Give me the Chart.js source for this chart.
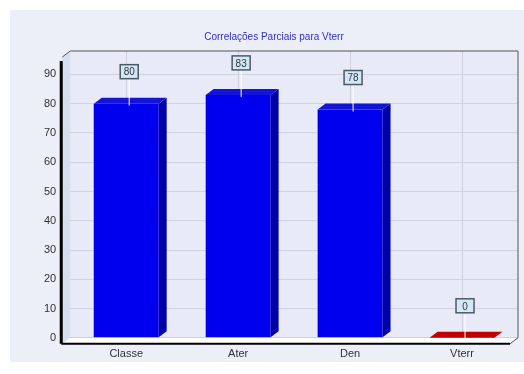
<!DOCTYPE html>
<html>
<head>
<meta charset="utf-8">
<script src="https://cdn.jsdelivr.net/npm/chart.js@4/dist/chart.umd.min.js"></script>
<style>
  html, body { margin: 0; padding: 0; background: #ffffff; }
  #wrap { width: 524px; height: 374px; }
</style>
</head>
<body>
<div id="wrap"><canvas id="chart" width="524" height="374"></canvas></div>
<script>
const categories = ['Classe', 'Ater', 'Den', 'Vterr'];
const values = [80, 83, 78, 0];
const barColors = ['#0000ee', '#0000ee', '#0000ee', '#dd0000'];
const sideColors = ['#0000a8', '#0000a8', '#0000a8', '#990000'];
const topColors = ['#1414d8', '#1414d8', '#1414d8', '#c00000'];
const titleText = 'Correlações Parciais para Vterr';

const DX = 8, DY = -6;
const FONT = '"Liberation Sans", Arial, sans-serif';

// panel, plot background and left wall
const backdrop = {
	id: 'backdrop',
	beforeDraw(chart) {
		const ctx = chart.ctx, a = chart.chartArea;
		ctx.save();
		ctx.fillStyle = '#ffffff';
		ctx.fillRect(0, 0, chart.width, chart.height);
		ctx.fillStyle = '#eceef8';
		ctx.fillRect(10, 10, chart.width - 10, 352);
		ctx.fillStyle = '#e8eaf8';
		ctx.fillRect(a.left, a.top, a.right - a.left, a.bottom - a.top);
		// left wall
		ctx.fillStyle = '#d4dff0';
		ctx.beginPath();
		ctx.moveTo(a.left - DX, a.top - DY);
		ctx.lineTo(a.left, a.top);
		ctx.lineTo(a.left, a.bottom);
		ctx.lineTo(a.left - DX, a.bottom - DY);
		ctx.closePath();
		ctx.fill();
		// floor
		ctx.fillStyle = '#ffffff';
		ctx.beginPath();
		ctx.moveTo(a.left - DX, a.bottom - DY);
		ctx.lineTo(a.left, a.bottom);
		ctx.lineTo(a.right, a.bottom);
		ctx.lineTo(a.right - DX, a.bottom - DY);
		ctx.closePath();
		ctx.fill();
		ctx.restore();
	},
	afterDatasetsDraw(chart) {
		const ctx = chart.ctx, a = chart.chartArea;
		ctx.save();
		// frame
		ctx.strokeStyle = '#555555';
		ctx.lineWidth = 1;
		ctx.beginPath();
		ctx.moveTo(a.left - DX, a.top - DY);
		ctx.lineTo(a.left, a.top);
		ctx.lineTo(a.right, a.top);
		ctx.lineTo(a.right, a.bottom);
		ctx.lineTo(a.right - DX, a.bottom - DY);
		ctx.stroke();
		// axes
		ctx.strokeStyle = '#000000';
		ctx.lineWidth = 3;
		ctx.beginPath();
		ctx.moveTo(a.left - DX - 1, a.top - DY + 4);
		ctx.lineTo(a.left - DX - 1, a.bottom - DY);
		ctx.stroke();
		ctx.lineWidth = 2;
		ctx.beginPath();
		ctx.moveTo(a.left - DX - 1, a.bottom - DY);
		ctx.lineTo(a.right - DX, a.bottom - DY);
		ctx.stroke();
		ctx.restore();
	}
};

// 3D faces for the bars
const bars3d = {
	id: 'bars3d',
	afterDatasetsDraw(chart) {
		const ctx = chart.ctx;
		const meta = chart.getDatasetMeta(0);
		ctx.save();
		meta.data.forEach((bar, i) => {
			const p = bar.getProps(['x', 'y', 'base', 'width'], true);
			const l = p.x - p.width / 2, r = p.x + p.width / 2;
			const t = p.y, b = p.base;
			// side
			ctx.fillStyle = sideColors[i];
			ctx.beginPath();
			ctx.moveTo(r, t);
			ctx.lineTo(r + DX, t + DY);
			ctx.lineTo(r + DX, b + DY);
			ctx.lineTo(r, b);
			ctx.closePath();
			ctx.fill();
			// top
			ctx.fillStyle = topColors[i];
			ctx.beginPath();
			ctx.moveTo(l, t);
			ctx.lineTo(l + DX, t + DY);
			ctx.lineTo(r + DX, t + DY);
			ctx.lineTo(r, t);
			ctx.closePath();
			ctx.fill();
		});
		ctx.restore();
	}
};

// value boxes with leader lines
const valueBoxes = {
	id: 'valueBoxes',
	afterDraw(chart) {
		const ctx = chart.ctx;
		const meta = chart.getDatasetMeta(0);
		ctx.save();
		ctx.font = '10px ' + FONT;
		ctx.textAlign = 'center';
		ctx.textBaseline = 'middle';
		meta.data.forEach((bar, i) => {
			const x = bar.x + 3, y = bar.y - 32;
			ctx.strokeStyle = '#ffffff';
			ctx.lineWidth = 1;
			ctx.beginPath();
			ctx.moveTo(x, y + 8);
			ctx.lineTo(x, bar.y + 2);
			ctx.stroke();
			ctx.fillStyle = '#d4e8f4';
			ctx.fillRect(x - 9, y - 7, 18, 14);
			ctx.strokeStyle = '#4a5a6a';
			ctx.lineWidth = 1.5;
			ctx.strokeRect(x - 9, y - 7, 18, 14);
			ctx.fillStyle = '#333344';
			ctx.fillText(String(values[i]), x, y + 1);
		});
		ctx.restore();
	}
};

new Chart(document.getElementById('chart'), {
	type: 'bar',
	data: {
		labels: categories,
		datasets: [{
			data: values,
			backgroundColor: barColors,
			borderWidth: 0,
			barPercentage: 0.58,
			categoryPercentage: 1
		}]
	},
	options: {
		responsive: false,
		animation: false,
		layout: { padding: { left: 30, right: 6, top: 6, bottom: 3 } },
		plugins: {
			legend: { display: false },
			tooltip: { enabled: false },
			title: {
				display: true,
				text: titleText,
				color: '#3030c8',
				font: { size: 10, family: FONT, weight: 'normal' },
				padding: { top: 25, bottom: 8 }
			}
		},
		scales: {
			x: {
				grid: { display: true, offset: false, color: '#cfd0dc', drawTicks: false },
				border: { display: false },
				ticks: { color: '#333333', font: { size: 11, family: FONT }, padding: 10 }
			},
			y: {
				min: 0,
				max: 98,
				grid: { color: '#d0d2de', drawTicks: false },
				border: { display: false },
				afterBuildTicks: axis => { axis.ticks = [0,10,20,30,40,50,60,70,80,90].map(v => ({ value: v })); },
				ticks: { color: '#333333', font: { size: 11, family: FONT }, padding: 14 }
			}
		}
	},
	plugins: [backdrop, bars3d, valueBoxes]
});
</script>
</body>
</html>
